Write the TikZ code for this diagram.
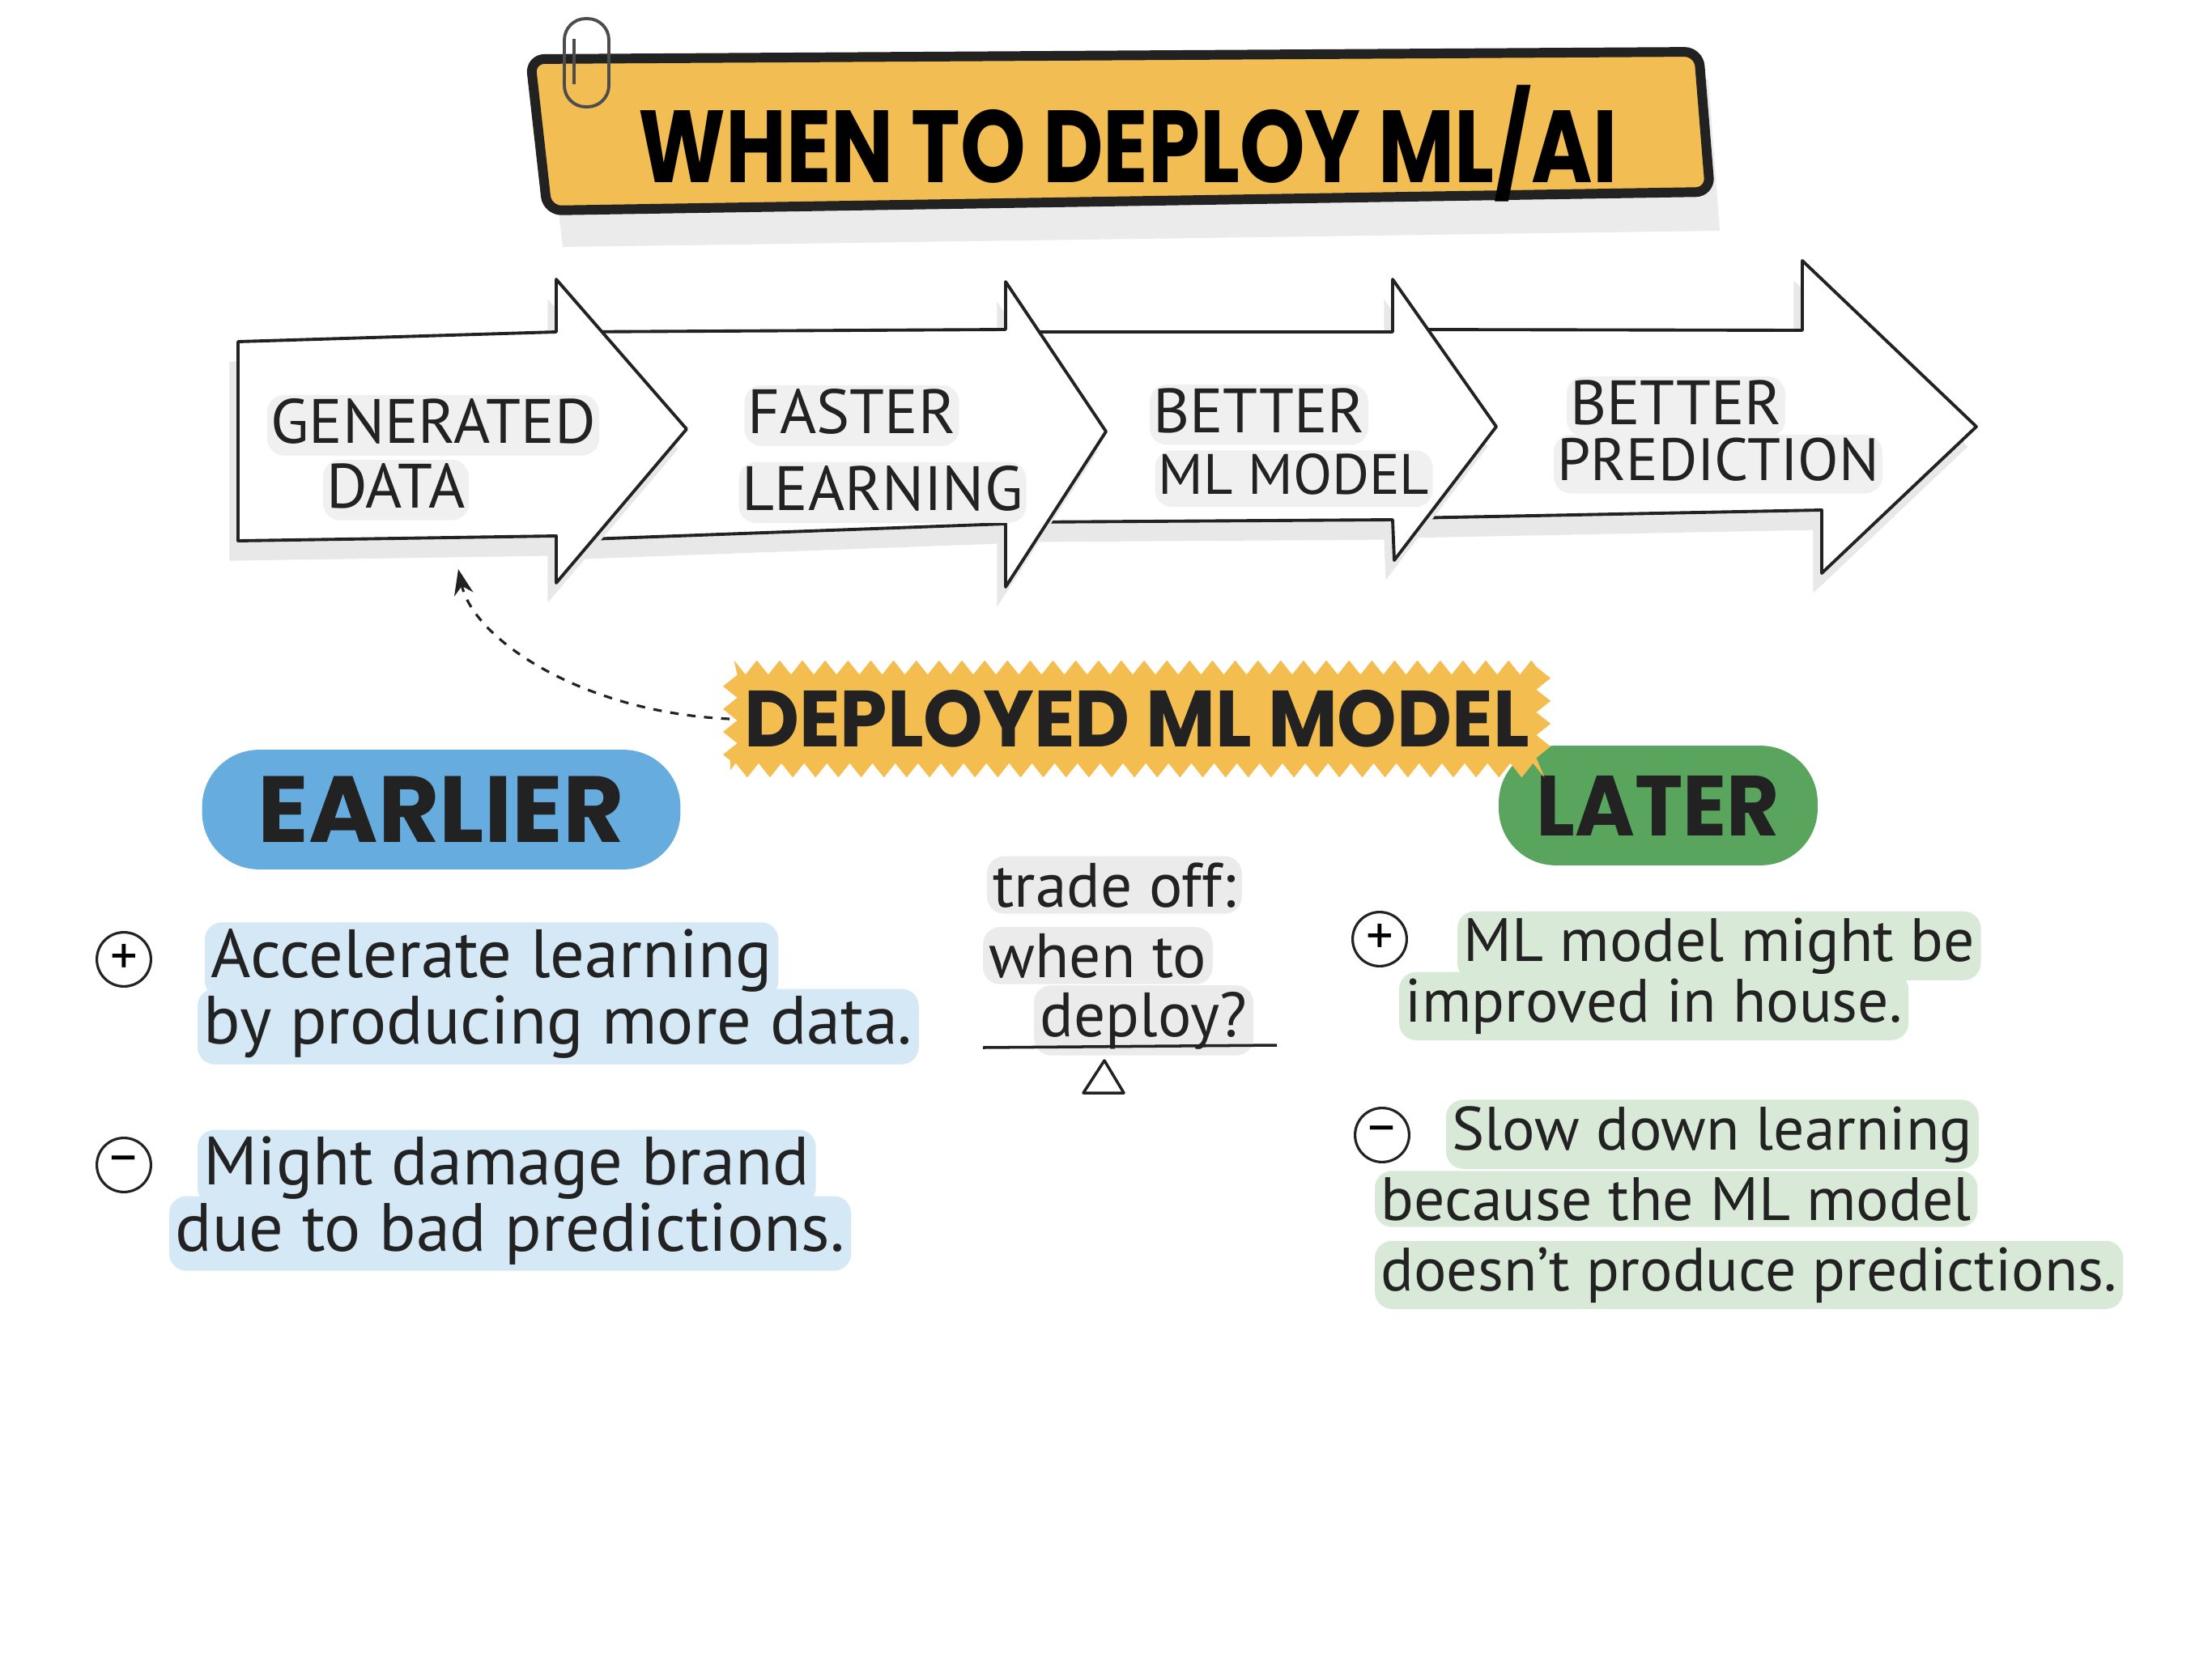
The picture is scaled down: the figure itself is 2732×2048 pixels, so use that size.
\documentclass[tikz,border=0pt]{standalone}
\usepackage{fontspec}
\setmainfont{PT Sans}
\newfontfamily\markerfont{Poppins}
\usetikzlibrary{arrows.meta,decorations.pathmorphing,backgrounds}

\definecolor{ink}{HTML}{222222}
\definecolor{bannerfill}{HTML}{F2BD52}
\definecolor{deployfill}{HTML}{F3BD50}
\definecolor{earlyblue}{HTML}{66ACDE}
\definecolor{latergreen}{HTML}{5AA55E}
\definecolor{bluewash}{HTML}{D4E8F6}
\definecolor{greenwash}{HTML}{D8EAD7}
\definecolor{graywash}{HTML}{EBEBEB}

\newcommand{\handsize}{\fontsize{24}{28}\selectfont}
\newcommand{\sidesize}{\fontsize{21.5}{26}\selectfont}
\newcommand{\midsize}{\fontsize{22}{26}\selectfont}
\newcommand{\capsize}{\fontsize{22}{26}\selectfont}
\newcommand{\bigmarker}[1]{\markerfont\bfseries\fontsize{#1}{#1}\selectfont}

\tikzset{
  arrowbox/.style={draw=ink, line width=1.1pt, fill=white, line join=round,
    preaction={draw=none, fill=black!9, transform canvas={xshift=-3pt, yshift=-7pt}}},
  capslabel/.style={font=\capsize, text=ink, inner sep=1pt},
  hand/.style={font=\handsize, text=ink, anchor=base west, inner sep=2pt},
  righthand/.style={hand, font=\sidesize},
  midhand/.style={hand, font=\midsize},
  sign/.style={circle, draw=ink, line width=0.9pt, minimum size=19pt, inner sep=0pt,
    font=\fontsize{19}{19}\selectfont},
  deploytag/.style={fill=deployfill, decorate, decoration={zigzag, segment length=8pt, amplitude=2.5pt},
    inner xsep=5pt, inner ysep=8pt, text=ink},
  blob/.style={rounded corners=20pt, inner sep=0pt, text=ink}
}

\begin{document}
\begin{tikzpicture}[x=0.01cm, y=-0.01cm]
\useasboundingbox (0,0) rectangle (2732,2048);

\fill[black!8] (672,110) -- (2110,98) -- (2124,285) -- (695,305) -- cycle;
\draw[line width=3.4pt, draw=ink, fill=bannerfill, rounded corners=5pt]
  (655,73) -- (2098,64) -- (2112,237) -- (676,260) -- cycle;
\draw[line width=1.1pt, draw=black!70, rounded corners=7.5pt] (697,23) rectangle (752,132);
\draw[line width=1.1pt, draw=black!70] (709,48) -- (709,104);
\node (title) at (1393,177) {\bigmarker{36}\scalebox{0.81}[1]{WHEN TO DEPLOY ML/AI}};

\begin{scope}[on background layer]
\draw[arrowbox] (1740,407) -- (2226,408) -- (2226,322) -- (2441,527) -- (2250,708) -- (2250,630) -- (1740,640) -- cycle;
\draw[arrowbox] (1260,410) -- (1720,410) -- (1720,345) -- (1848,527) -- (1722,692) -- (1720,642) -- (1260,645) -- cycle;
\draw[arrowbox] (700,410) -- (1242,407) -- (1242,348) -- (1366,533) -- (1242,725) -- (1242,647) -- (700,667) -- cycle;
\draw[arrowbox] (294,422) -- (687,410) -- (687,345) -- (848,530) -- (687,720) -- (687,662) -- (294,668) -- cycle;
\end{scope}

\node[capslabel] (gen) at (535,520) {GENERATED};
\node[capslabel] (data) at (489,600) {DATA};
\node[capslabel] (fast) at (1052,508) {FASTER};
\node[capslabel] (learn) at (1090,603) {LEARNING};
\node[capslabel] (better) at (1555,507) {BETTER};
\node[capslabel, font=\fontsize{20}{24}\selectfont] (mlmodel) at (1598,586) {ML MODEL};
\node[capslabel] (betterp) at (2070,497) {BETTER};
\node[capslabel, font=\fontsize{21}{25}\selectfont] (pred) at (2122,568) {PREDICTION};

\node[blob, fill=latergreen, minimum width=112pt, minimum height=42pt] (later) at (2048,995)
  {\bigmarker{30}\scalebox{0.95}[1]{LATER}};
\node[deploytag] (deploy) at (1404,888) {\bigmarker{28}\scalebox{0.95}[1]{DEPLOYED ML MODEL}};
\coordinate (hit) at (566,703);
\draw[ink, line width=0.9pt, dashed, -{Stealth[length=9pt]}]
  (deploy.west) .. controls (720,880) and (585,790) .. (hit);

\node[blob, fill=earlyblue, minimum width=168pt, minimum height=42pt] (earlier) at (545,1000)
  {\bigmarker{33}EARLIER};

\node[sign] (plusL) at (153,1185) {+};
\node[hand] (accel) at (253,1207) {Accelerate learning};
\node[hand] (accelb) at (244,1289) {by producing more data.};
\node[sign] (minusL) at (153,1439) {–};
\node[hand] (damage) at (244,1463) {Might damage brand};
\node[hand] (damageb) at (209,1545) {due to bad predictions.};

\node[midhand] (tradeoff) at (1219,1120) {trade off:};
\node[midhand] (whento) at (1214,1207) {when to};
\node[midhand] (deployq) at (1277,1280) {deploy?};
\draw[ink, line width=1pt] (1214,1294) -- (1577,1291);
\draw[ink, line width=1pt, line join=round] (1364,1310) -- (1388,1350) -- (1338,1350) -- cycle;

\node[sign] (plusR) at (1704,1160) {+};
\node[righthand] (mlmight) at (1800,1187) {ML model might be};
\node[righthand] (mlmightb) at (1728,1262) {improved in house.};
\node[sign] (minusR) at (1707,1402) {–};
\node[righthand] (slow) at (1786,1420) {Slow down learning};
\node[righthand] (slowb) at (1698,1507) {because the ML model};
\node[righthand] (slowc) at (1698,1594) {doesn't produce predictions.};

\begin{scope}[on background layer]
  \foreach \n in {gen,data,fast,learn,better,mlmodel,betterp,pred}
    \fill[black!6, rounded corners=6pt] ([yshift=-3pt]\n.south west) rectangle (\n.north east);
  \foreach \n in {accel,accelb,damage,damageb}
    \fill[bluewash, rounded corners=6pt] (\n.south west) rectangle (\n.north east);
  \foreach \n in {mlmight,mlmightb,slow,slowb,slowc}
    \fill[greenwash, rounded corners=6pt] (\n.south west) rectangle (\n.north east);
  \foreach \n in {tradeoff,whento,deployq}
    \fill[graywash, rounded corners=6pt] (\n.south west) rectangle (\n.north east);
\end{scope}
\end{tikzpicture}
\end{document}
